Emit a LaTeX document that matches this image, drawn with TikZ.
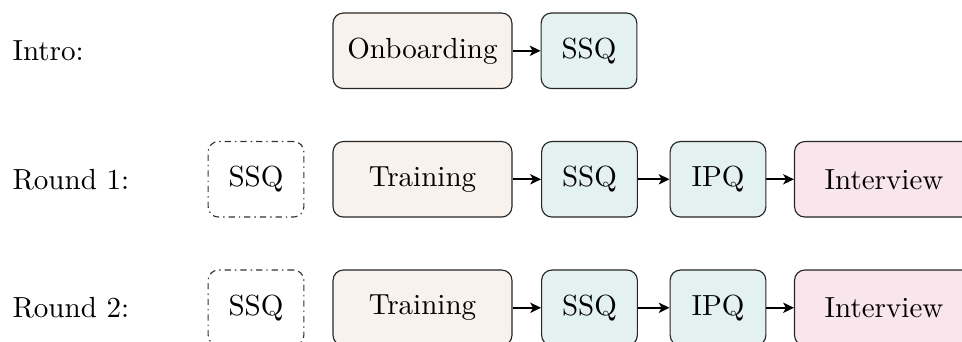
\documentclass[tikz,border=0pt]{standalone}
\usetikzlibrary{arrows.meta}
\definecolor{warmfill}{HTML}{F9F1EC}
\definecolor{coolfill}{HTML}{E4F1F1}
\definecolor{rosefill}{HTML}{F9E5EC}
\definecolor{edgegray}{HTML}{333333}
\begin{document}
\begin{tikzpicture}[x=0.351pt,y=-0.351pt,
  box/.style={draw=black!85,line width=0.4pt,rounded corners=3.6pt,inner sep=0pt,
    minimum height=26.5pt,font=\fontsize{10.2}{12}\selectfont},
  wide/.style={box,minimum width=62.8pt},
  narrow/.style={box,minimum width=33.6pt},
  warm/.style={fill=warmfill},
  cool/.style={fill=coolfill},
  rose/.style={fill=rosefill},
  optional/.style={box,minimum width=33.6pt,draw=edgegray,dash pattern=on 2.2pt off 1.4pt on 0.5pt off 1.4pt},
  rowlabel/.style={anchor=west,inner sep=0pt,font=\fontsize{10.2}{12}\selectfont},
  flow/.style={semithick,-{Stealth[length=3.8pt,width=3.6pt,inset=1pt]}}]
\useasboundingbox (0,0) rectangle (962,342);

% intro row
\node[rowlabel] (lintro) at (12,50.8) {Intro:};
\node[wide,warm] (onb) at (422.5,50.8) {Onboarding};
\node[narrow,cool] (ssq0) at (589,50.8) {SSQ};
\draw[flow] (onb) -- (ssq0);

% round 1
\node[rowlabel] (lr1) at (12,179.3) {Round 1:};
\node[optional] (pre1) at (256,179.3) {SSQ};
\node[wide,warm] (tr1) at (422.5,179.3) {Training};
\node[narrow,cool] (ssq1) at (589.5,179.3) {SSQ};
\node[narrow,cool] (ipq1) at (718,179.3) {IPQ};
\node[wide,rose] (int1) at (884,179.3) {Interview};
\draw[flow] (tr1) -- (ssq1);
\draw[flow] (ssq1) -- (ipq1);
\draw[flow] (ipq1) -- (int1);

% round 2
\node[rowlabel] (lr2) at (12,307.8) {Round 2:};
\node[optional] (pre2) at (256,307.8) {SSQ};
\node[wide,warm] (tr2) at (422.5,307.8) {Training};
\node[narrow,cool] (ssq2) at (589.5,307.8) {SSQ};
\node[narrow,cool] (ipq2) at (718,307.8) {IPQ};
\node[wide,rose] (int2) at (884,307.8) {Interview};
\draw[flow] (tr2) -- (ssq2);
\draw[flow] (ssq2) -- (ipq2);
\draw[flow] (ipq2) -- (int2);
\end{tikzpicture}
\end{document}
